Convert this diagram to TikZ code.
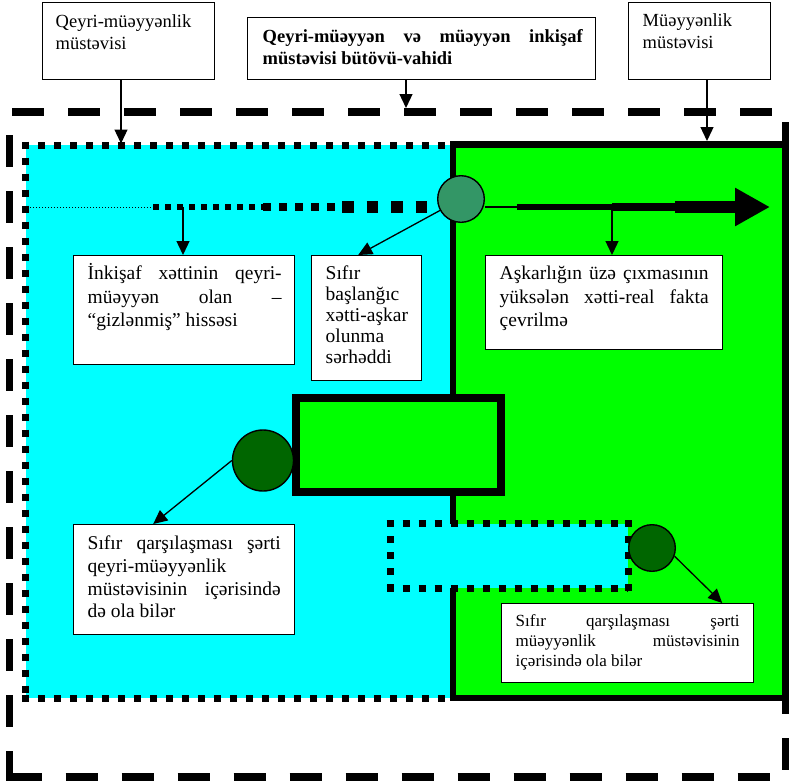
\documentclass[tikz,border=0pt]{standalone}
\usepackage{fontspec}
\setmainfont{Liberation Serif}
\usetikzlibrary{arrows.meta,calc}
\definecolor{cyanF}{RGB}{0,255,255}
\definecolor{greenF}{RGB}{0,255,0}
\definecolor{seaC}{RGB}{51,150,102}
\definecolor{darkC}{RGB}{0,102,0}
\newcommand{\bt}[8]{\parbox[c][#2][t]{#1}{\fontsize{#5}{#6}\selectfont\parindent=0pt\leftskip=#3\rightskip=#4\hyphenpenalty=10000\exhyphenpenalty=10000\tolerance=10000\relax\rule{0pt}{#7}#8}}
\begin{document}
\begin{tikzpicture}[x=1pt,y=-1pt,
  outerdash/.style={line width=7.5pt, dash pattern=on 32pt off 24pt},
  sqdot/.style={line width=7pt, dash pattern=on 7pt off 9pt},
  tbox/.style={draw, line width=1.4pt, fill=white, inner sep=0pt, anchor=north west},
  conn/.style={line width=1.3pt, -{Triangle[length=14pt,width=13pt]}},
  circ/.style={circle, draw, line width=1.4pt, inner sep=0pt}]
\useasboundingbox (0,0) rectangle (789,782);
% cyan plane
\fill[cyanF] (25.5,145) rectangle (453,698);
\draw[sqdot] (22,145) -- (453,145);
\draw[sqdot] (25.5,141.5) -- (25.5,698);
\draw[sqdot] (22,698) -- (453,698);
% green plane
\draw[line width=6.7pt, fill=greenF] (453,144.5) rectangle (785.5,698);
% outer dashed frame
\draw[outerdash] (12,112) -- (772,112);
\draw[outerdash] (9.5,135) -- (9.5,780.75);
\draw[outerdash] (9.5,777) -- (770,777);
\draw[outerdash] (785.5,122) -- (785.5,770);
% coordinates of the main line
\coordinate (L0) at (27,207);
\coordinate (L1) at (153.3,207);
\coordinate (L2) at (263.3,207);
\coordinate (L3) at (342,207);
\coordinate (L4) at (427,207);
\coordinate (R1) at (517,207);
\coordinate (R2) at (612,207);
\coordinate (R3) at (675,207);
\coordinate (R5) at (770,207);
\coordinate (p1) at (183,207);
\coordinate (p2) at (612,207);
\coordinate (t1) at (121,143.5);
\coordinate (t2) at (406,108);
\coordinate (t3) at (707,141);
% circle 1
\node[circ, fill=seaC, minimum size=46.6pt] (c1) at (461,199) {};
% main line
\draw[line width=1pt, dash pattern=on 1pt off 2pt] (L0) -- (L1);
\draw[line width=6pt, dash pattern=on 5.5pt off 6.5pt] (L1) -- (L2);
\draw[line width=8pt, dash pattern=on 8pt off 8pt] (L2) -- (L3);
\draw[line width=12pt, dash pattern=on 11.5pt off 13pt] (L3) -- (L4);
\draw[line width=1.3pt] (c1.east |- R1) -- (R1);
\draw[line width=6pt] (R1) -- (R2);
\draw[line width=8pt] (R2) -- (R3);
\draw[line width=12pt, -{Triangle[length=35pt,width=36pt]}] (R3) -- (R5);
% header boxes
\node[tbox] (h1) at (42,2) {\bt{172pt}{77pt}{13pt}{8pt}{18.5}{21.5}{25pt}{Qeyri-müəyyənlik\\müstəvisi}};
\node[tbox] (h2) at (247,17) {\bt{348pt}{62pt}{15pt}{13pt}{18.5}{22}{25pt}{\bfseries Qeyri-müəyyən və müəyyən inkişaf\linebreak müstəvisi bütövü-vahidi}};
\node[tbox] (h3) at (628,2) {\bt{142pt}{77pt}{14pt}{8pt}{18.5}{22}{24pt}{Müəyyənlik\\müstəvisi}};
% middle boxes
\node[tbox] (ib) at (73,255) {\bt{221pt}{109pt}{14pt}{13pt}{19.5}{23.5}{24pt}{İnkişaf xəttinin qeyri-\linebreak müəyyən olan –\linebreak “gizlənmiş” hissəsi}};
\node[tbox] (sb) at (311,255) {\bt{110pt}{125pt}{14pt}{4pt}{19.5}{21}{24pt}{Sıfır\\başlanğıc\\xətti-aşkar\\olunma\\sərhəddi}};
\node[tbox] (ab) at (485,255) {\bt{237pt}{94pt}{14pt}{14pt}{19.5}{23.3}{24pt}{Aşkarlığın üzə çıxmasının\linebreak yüksələn xətti-real fakta\linebreak çevrilmə}};
% green middle rectangle
\draw[line width=7.5pt, fill=greenF] (296,398) rectangle (501,492);
% dotted cyan rectangle
\fill[cyanF] (390,523.5) rectangle (628,588);
\draw[sqdot] (386.5,523.5) -- (628,523.5);
\draw[sqdot] (386.5,588) -- (628,588);
\draw[sqdot] (390,520) -- (390,591.5);
\draw[sqdot] (628,520) -- (628,591.5);
% lower boxes
\node[tbox] (lb) at (73,524) {\bt{221pt}{110pt}{14pt}{14pt}{19.5}{22.7}{25pt}{Sıfır qarşılaşması şərti\linebreak qeyri-müəyyənlik\\müstəvisinin içərisində\linebreak də ola bilər}};
\node[tbox] (sm) at (501,603) {\bt{252pt}{79pt}{14pt}{14pt}{17}{20}{23pt}{Sıfır qarşılaşması şərti\linebreak müəyyənlik müstəvisinin\linebreak içərisində ola bilər}};
% circles 2, 3
\node[circ, fill=darkC, minimum size=61pt] (c2) at (263,460.5) {};
\node[circ, fill=darkC, minimum size=46.6pt] (c3) at (652,548) {};
% connectors
\draw[conn] (h1.south -| t1) -- (t1);
\draw[conn] (h2.south -| t2) -- (t2);
\draw[conn] (h3.south -| t3) -- (t3);
\draw[conn] (p1) -- (p1 |- ib.north);
\draw[conn] (p2) -- (p2 |- ab.north);
\draw[conn] (c1) -- ([xshift=-8.5pt]sb.north);
\draw[conn] (c2.west) -- ([xshift=-31pt]lb.north);
\draw[conn] (c3.-20) -- ([xshift=94.5pt]sm.north);
\end{tikzpicture}
\end{document}
